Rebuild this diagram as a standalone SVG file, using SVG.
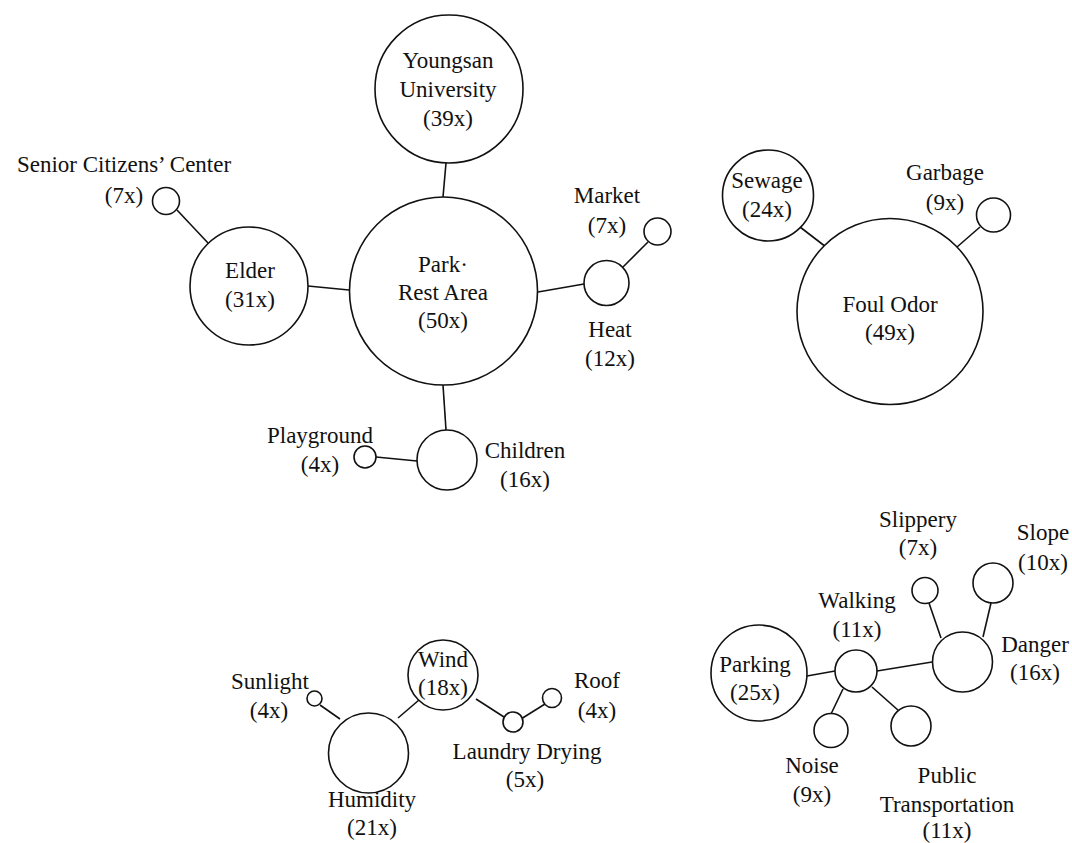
<svg xmlns="http://www.w3.org/2000/svg" width="1072" height="843" viewBox="0 0 1072 843">
<style>
.n{fill:#fff;stroke:#111;stroke-width:1.6}
.e{stroke:#111;stroke-width:1.6;fill:none}
.t{font-size:23px;fill:#111;text-anchor:middle}
</style>
<rect width="1072" height="843" fill="#fff"/>
<g id="connectors">
<line class="e" x1="446" y1="163" x2="443" y2="197"/>
<line class="e" x1="308" y1="286" x2="349" y2="290"/>
<line class="e" x1="177" y1="210" x2="208" y2="243"/>
<line class="e" x1="538" y1="292" x2="584" y2="284"/>
<line class="e" x1="623" y1="267" x2="648" y2="242"/>
<line class="e" x1="443" y1="385" x2="446" y2="430"/>
<line class="e" x1="376" y1="457" x2="417" y2="461"/>
<line class="e" x1="800" y1="227" x2="826" y2="247"/>
<line class="e" x1="980" y1="227" x2="957" y2="247"/>
<line class="e" x1="807" y1="676" x2="835" y2="671"/>
<line class="e" x1="877" y1="671" x2="932" y2="662"/>
<line class="e" x1="843" y1="689" x2="831" y2="714"/>
<line class="e" x1="872" y1="687" x2="899" y2="711"/>
<line class="e" x1="941" y1="638" x2="929" y2="603"/>
<line class="e" x1="983" y1="637" x2="991" y2="603"/>
<line class="e" x1="320" y1="705" x2="340" y2="719"/>
<line class="e" x1="398" y1="718" x2="419" y2="700"/>
<line class="e" x1="476" y1="699" x2="504" y2="717"/>
<line class="e" x1="521" y1="719" x2="545" y2="704"/>
</g>
<g class="t" font-family="Liberation Serif, Tinos, Times New Roman, Times, DejaVu Serif, Noto Serif, FreeSerif, serif">
<g id="youngsan"><circle class="n" cx="449" cy="89" r="74"/><text x="448" y="68">Youngsan</text><text x="448" y="97">University</text><text x="448" y="126">(39x)</text></g>
<g id="park"><circle class="n" cx="443.5" cy="291" r="94"/><text x="443" y="272">Park·</text><text x="443" y="300">Rest Area</text><text x="443" y="328">(50x)</text></g>
<g id="elder"><circle class="n" cx="249" cy="286" r="59"/><text x="250" y="278">Elder</text><text x="250" y="307">(31x)</text></g>
<g id="senior"><circle class="n" cx="166" cy="201" r="13.5"/><text x="124" y="172">Senior Citizens’ Center</text><text x="124" y="203">(7x)</text></g>
<g id="heat"><circle class="n" cx="606.5" cy="283" r="22.5"/><text x="610" y="337">Heat</text><text x="610" y="366">(12x)</text></g>
<g id="market"><circle class="n" cx="657.5" cy="231.5" r="13.5"/><text x="607" y="203">Market</text><text x="607" y="233">(7x)</text></g>
<g id="children"><circle class="n" cx="447" cy="460" r="30"/><text x="525" y="458">Children</text><text x="525" y="487">(16x)</text></g>
<g id="playground"><circle class="n" cx="365" cy="457" r="11"/><text x="320" y="443">Playground</text><text x="320" y="472">(4x)</text></g>
<g id="sewage"><circle class="n" cx="768" cy="195.5" r="45.5"/><text x="767" y="188">Sewage</text><text x="767" y="217">(24x)</text></g>
<g id="garbage"><circle class="n" cx="993.5" cy="215" r="17"/><text x="945" y="180">Garbage</text><text x="945" y="210">(9x)</text></g>
<g id="foulodor"><circle class="n" cx="890" cy="311.5" r="93"/><text x="890" y="312">Foul Odor</text><text x="890" y="340">(49x)</text></g>
<g id="parking"><circle class="n" cx="759" cy="673" r="48"/><text x="755" y="672">Parking</text><text x="755" y="700">(25x)</text></g>
<g id="walking"><circle class="n" cx="856" cy="671" r="21"/><text x="857" y="608">Walking</text><text x="857" y="637">(11x)</text></g>
<g id="danger"><circle class="n" cx="962.5" cy="662" r="30"/><text x="1035" y="652">Danger</text><text x="1035" y="680">(16x)</text></g>
<g id="slippery"><circle class="n" cx="925" cy="590.5" r="13"/><text x="918" y="527">Slippery</text><text x="918" y="555">(7x)</text></g>
<g id="slope"><circle class="n" cx="993" cy="583" r="20"/><text x="1043" y="540">Slope</text><text x="1043" y="570">(10x)</text></g>
<g id="noise"><circle class="n" cx="831" cy="730.5" r="17"/><text x="812" y="773">Noise</text><text x="812" y="802">(9x)</text></g>
<g id="publictransport"><circle class="n" cx="911" cy="726" r="20"/><text x="947" y="783">Public</text><text x="947" y="812">Transportation</text><text x="947" y="838">(11x)</text></g>
<g id="wind"><circle class="n" cx="443" cy="675" r="35"/><text x="443" y="667">Wind</text><text x="443" y="695">(18x)</text></g>
<g id="sunlight"><circle class="n" cx="314.5" cy="698.5" r="7.5"/><text x="270" y="689">Sunlight</text><text x="269" y="718">(4x)</text></g>
<g id="humidity"><circle class="n" cx="368.5" cy="753" r="40"/><text x="372" y="807">Humidity</text><text x="372" y="835">(21x)</text></g>
<g id="laundry"><circle class="n" cx="513" cy="722" r="10"/><text x="527" y="759">Laundry Drying</text><text x="525" y="787">(5x)</text></g>
<g id="roof"><circle class="n" cx="552" cy="698" r="9.5"/><text x="597" y="688">Roof</text><text x="597" y="718">(4x)</text></g>
</g>
</svg>
